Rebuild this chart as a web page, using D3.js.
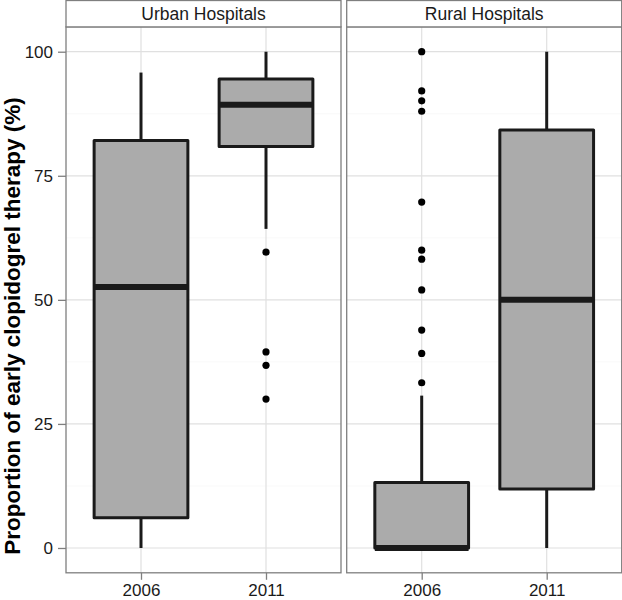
<!DOCTYPE html>
<html>
<head>
<meta charset="utf-8">
<script src="https://cdn.jsdelivr.net/npm/d3@7"></script>
<style>
body{margin:0;padding:0;background:#fff;}
svg{display:block;font-family:"Liberation Sans",Arial,Helvetica,sans-serif;}
</style>
</head>
<body>
<svg id="chart" width="622" height="600"></svg>
<script>
// ---- data ----
const panels = ["Urban Hospitals", "Rural Hospitals"];
const categories = ["2006", "2011"];
const yTicks = [0, 25, 50, 75, 100];
// [lower whisker, Q1, median, Q3, upper whisker]
const urbanStats = [[0, 6.1, 52.6, 82.1, 95.8], [64.3, 80.9, 89.3, 94.5, 100]];
const ruralStats = [[0, 0, 0, 13.2, 30.7], [0, 11.9, 50.0, 84.2, 100]];
const urbanOutliers = [[], [59.6, 39.5, 36.8, 30.0]];
const ruralOutliers = [[100, 92.1, 90.1, 88.0, 69.7, 60.0, 58.2, 52.0, 43.9, 39.2, 33.3], []];

const panelStats = [urbanStats, ruralStats];
const panelOutliers = [urbanOutliers, ruralOutliers];

// ---- layout ----
const svg = d3.select("#chart");
const plotTop = 26.9, plotBottom = 572.8;
const panelX = [[66, 341], [346.7, 621.7]];
const stripTop = 0.5;

const y = d3.scaleLinear().domain([-5, 105]).range([plotBottom, plotTop]);
const lineCol = "#1a1a1a";

panels.forEach((name, pi) => {
  const [x0, x1] = panelX[pi];
  const x = d3.scalePoint().domain(categories).range([x0, x1]).padding(0.6);
  const bw = x.step() * 0.75;
  const g = svg.append("g");

  // minor grid
  const minor = [12.5, 37.5, 62.5, 87.5];
  g.selectAll(".mg").data(minor).enter().append("line")
    .attr("x1", x0).attr("x2", x1)
    .attr("y1", d => y(d)).attr("y2", d => y(d))
    .attr("stroke", "#f5f5f5").attr("stroke-width", 0.6);
  // major grid
  g.selectAll(".gy").data(yTicks).enter().append("line")
    .attr("x1", x0).attr("x2", x1)
    .attr("y1", d => y(d)).attr("y2", d => y(d))
    .attr("stroke", "#e0e0e0").attr("stroke-width", 1.2);
  g.selectAll(".gx").data(categories).enter().append("line")
    .attr("x1", d => x(d)).attr("x2", d => x(d))
    .attr("y1", plotTop).attr("y2", plotBottom)
    .attr("stroke", "#e0e0e0").attr("stroke-width", 1.2);

  // boxes
  categories.forEach((c, ci) => {
    const s = panelStats[pi][ci];
    const cx = x(c);
    g.append("line").attr("x1", cx).attr("x2", cx)
      .attr("y1", y(s[3])).attr("y2", y(s[4]))
      .attr("stroke", lineCol).attr("stroke-width", 3);
    g.append("line").attr("x1", cx).attr("x2", cx)
      .attr("y1", y(s[1])).attr("y2", y(s[0]))
      .attr("stroke", lineCol).attr("stroke-width", 3);
    g.append("rect")
      .attr("x", cx - bw / 2).attr("width", bw)
      .attr("y", y(s[3])).attr("height", Math.max(0, y(s[1]) - y(s[3])))
      .attr("fill", "#ababab").attr("stroke", lineCol).attr("stroke-width", 3)
      .attr("stroke-linejoin", "round");
    g.append("line").attr("x1", cx - bw / 2).attr("x2", cx + bw / 2)
      .attr("y1", y(s[2])).attr("y2", y(s[2]))
      .attr("stroke", lineCol).attr("stroke-width", 6);
    g.selectAll(null).data(panelOutliers[pi][ci]).enter().append("circle")
      .attr("cx", cx).attr("cy", d => y(d)).attr("r", 3.6).attr("fill", "#000");
  });

  // panel border
  g.append("rect").attr("x", x0).attr("y", plotTop).attr("width", x1 - x0).attr("height", plotBottom - plotTop)
    .attr("fill", "none").attr("stroke", "#7f7f7f").attr("stroke-width", 1.3);

  // strip
  g.append("rect").attr("x", x0).attr("y", stripTop).attr("width", x1 - x0).attr("height", plotTop - stripTop)
    .attr("fill", "#fff").attr("stroke", "#7f7f7f").attr("stroke-width", 1.3);
  g.append("text").attr("x", (x0 + x1) / 2).attr("y", 19.5)
    .attr("text-anchor", "middle").attr("font-size", 17.5).attr("fill", "#1a1a1a").text(name);

  // x axis
  const xa = g.append("g").attr("transform", `translate(0,${plotBottom})`)
    .call(d3.axisBottom(x).tickSize(7).tickPadding(4));
  xa.select(".domain").remove();
  xa.selectAll(".tick line").attr("stroke", "#7f7f7f").attr("stroke-width", 1.3);
  xa.selectAll(".tick text").attr("font-size", 17).attr("fill", "#1a1a1a")
    .attr("font-family", "Liberation Sans, Arial, sans-serif")
    .attr("dy", null).attr("y", 23);

  if (pi === 0) {
    const ya = svg.append("g").attr("transform", `translate(${x0},0)`)
      .call(d3.axisLeft(y).tickValues(yTicks).tickSize(8).tickPadding(5));
    ya.select(".domain").remove();
    ya.selectAll(".tick line").attr("stroke", "#7f7f7f").attr("stroke-width", 1.3);
    ya.selectAll(".tick text").attr("font-size", 17).attr("fill", "#1a1a1a")
      .attr("font-family", "Liberation Sans, Arial, sans-serif");
  }
});

// y title
svg.append("text")
  .attr("transform", `translate(20,326) rotate(-90)`)
  .attr("text-anchor", "middle").attr("font-size", 22.5).attr("font-weight", "bold")
  .attr("fill", "#000")
  .text("Proportion of early clopidogrel therapy (%)");
</script>
</body>
</html>
